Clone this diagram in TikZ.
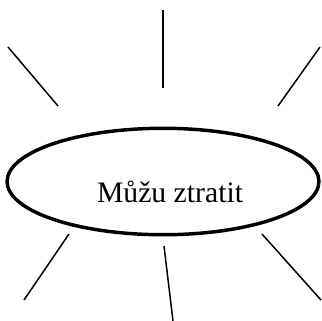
\documentclass[tikz,border=0pt]{standalone}
\usepackage{fontspec}
\setmainfont{Liberation Serif}
\usetikzlibrary{shapes.geometric}

\begin{document}
\begin{tikzpicture}[
    x=0.404pt, y=-0.404pt,
    bubble/.style={draw, ellipse, line width=1.4pt, minimum width=126pt, minimum height=43pt, inner sep=0pt},
    ray/.style={line width=0.6pt},
]
    \useasboundingbox (0,0) rectangle (322,320);

    \node[bubble] (loss) at (163,181.5) {};
    \node[anchor=base, font=\fontsize{12}{14}\selectfont] (txt) at (170,202) {Můžu ztratit};

    % rays round the bubble
    \coordinate (n1) at (163,10);  \coordinate (n2) at (163,88);
    \coordinate (nw1) at (8,47);   \coordinate (nw2) at (58,106);
    \coordinate (ne1) at (320,47); \coordinate (ne2) at (278,106);
    \coordinate (sw1) at (69,234); \coordinate (sw2) at (24,300);
    \coordinate (s1) at (164,246); \coordinate (s2) at (173,321);
    \coordinate (se1) at (262,234); \coordinate (se2) at (321,300);

    \draw[ray] (n1) -- (n2);
    \draw[ray] (nw1) -- (nw2);
    \draw[ray] (ne1) -- (ne2);
    \draw[ray] (sw1) -- (sw2);
    \draw[ray] (s1) -- (s2);
    \draw[ray] (se1) -- (se2);
\end{tikzpicture}
\end{document}
